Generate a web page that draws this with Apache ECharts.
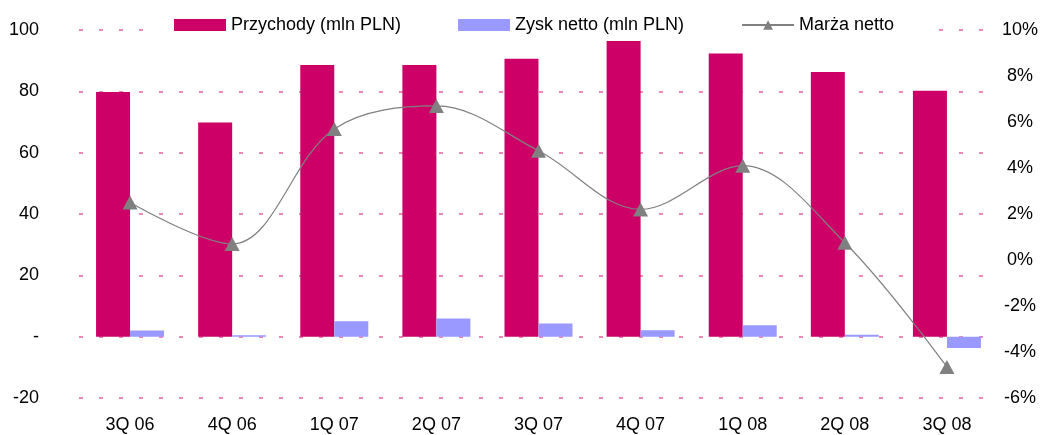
<!DOCTYPE html>
<html><head><meta charset="utf-8">
<script src="https://cdn.jsdelivr.net/npm/echarts@6/dist/echarts.min.js"></script>
<style>html,body{margin:0;padding:0;background:#fff}#c{width:1041px;height:435px}</style>
</head><body><div id="c"></div>
<script>
var categories = ['3Q 06','4Q 06','1Q 07','2Q 07','3Q 07','4Q 07','1Q 08','2Q 08','3Q 08'];
var revenue = [79.8, 69.8, 88.6, 88.6, 90.6, 96.4, 92.3, 86.3, 80.2];
var netProfit = [2.0, 0.5, 5.0, 5.9, 4.3, 2.1, 3.7, 0.6, -3.7];
var netMargin = [2.5, 0.7, 5.7, 6.7, 4.75, 2.2, 4.1, 0.75, -4.65];
var seriesNames = ['Przychody (mln PLN)', 'Zysk netto (mln PLN)', 'Marża netto'];
var FONT = '"Liberation Sans", Arial, sans-serif';

var chart = echarts.init(document.getElementById('c'));
chart.setOption({
  animation: false,
  textStyle: {fontFamily: FONT, color: '#000'},
  grid: {left: 79, right: 43, top: 30, bottom: 37},
  legend: {
    left: 146, top: 11, itemGap: 57, itemWidth: 52, itemHeight: 12,
    padding: [5, 36, 6, 28], backgroundColor: '#ffffff', z: 10,
    textStyle: {fontFamily: FONT, fontSize: 18, color: '#000'},
    data: [{name: seriesNames[0], icon: 'rect'}, {name: seriesNames[1], icon: 'rect'}, {name: seriesNames[2]}]
  },
  xAxis: {
    type: 'category', data: categories,
    axisLine: {show: false}, axisTick: {show: false},
    axisLabel: {fontFamily: FONT, fontSize: 18, color: '#000', margin: 18}
  },
  yAxis: [{
    type: 'value', min: -20, max: 100, interval: 20,
    axisLine: {show: false}, axisTick: {show: false},
    axisLabel: {fontFamily: FONT, fontSize: 18, color: '#000', margin: 40,
      formatter: function(v){ return v === 0 ? '-' : String(v); }},
    splitLine: {show: true, lineStyle: {color: '#E2649F', width: 1.5, type: [4, 16]}}
  }, {
    type: 'value', min: -6, max: 10, interval: 2,
    axisLine: {show: false}, axisTick: {show: false},
    axisLabel: {fontFamily: FONT, fontSize: 18, color: '#000', margin: 22, align: 'center',
      formatter: '{value}%'},
    splitLine: {show: false}
  }],
  series: [{
    name: seriesNames[0], type: 'bar', data: revenue, barWidth: 34, barGap: '0%',
    itemStyle: {color: '#CC0066'}
  }, {
    name: seriesNames[1], type: 'bar', data: netProfit, barWidth: 34, barGap: '0%',
    itemStyle: {color: '#9999FF'}
  }, {
    name: seriesNames[2], type: 'line', yAxisIndex: 1, data: netMargin, smooth: 0.35,
    symbol: 'triangle', symbolSize: [15, 14],
    lineStyle: {color: '#808080', width: 1.2},
    itemStyle: {color: '#808080'}, z: 5
  }]
});
</script></body></html>
